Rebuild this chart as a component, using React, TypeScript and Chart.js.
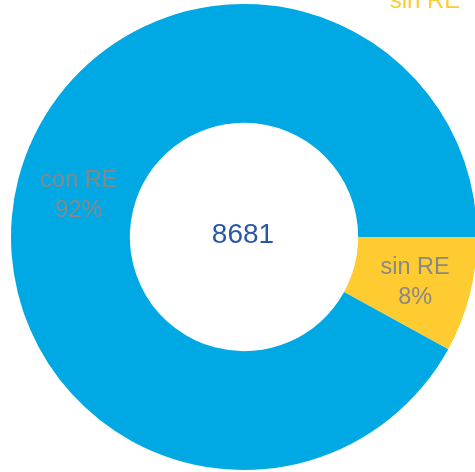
import React, { useEffect, useRef } from "react";
import { Chart, registerables } from "chart.js";

Chart.register(...registerables);

const categories = ["sin RE", "con RE"];
const values = [694, 7987];
const colors = ["#FECB30", "#00A9E4"];
const legendLabel = "sin RE";

const FONT = "'Liberation Sans', Arial, sans-serif";

const labelPlugin = {
  id: "sliceLabels",
  afterDatasetsDraw(chart: any) {
    const ctx = chart.ctx;
    const meta = chart.getDatasetMeta(0);
    const data = chart.data.datasets[0].data as number[];
    const total = data.reduce((a, b) => a + b, 0);
    ctx.save();
    ctx.textAlign = "center";
    ctx.textBaseline = "middle";
    ctx.fillStyle = "#888888";
    ctx.font = `23.5px ${FONT}`;
    meta.data.forEach((arc: any, i: number) => {
      const p = arc.tooltipPosition();
      const pct = Math.round((data[i] / total) * 100) + "%";
      ctx.fillText(String(chart.data.labels[i]), p.x + 3, p.y - 13);
      ctx.fillText(pct, p.x + 3, p.y + 17);
    });
    // center total
    const arc0 = meta.data[0];
    ctx.fillStyle = "#2B58A6";
    ctx.font = `28px ${FONT}`;
    ctx.fillText(String(total), arc0.x - 1, arc0.y - 2);
    // partially visible legend text at top
    ctx.fillStyle = colors[0];
    ctx.font = `24px ${FONT}`;
    ctx.textBaseline = "alphabetic";
    ctx.fillText(legendLabel, 425, 8);
    ctx.restore();
  },
};

export default function App() {
  const ref = useRef<HTMLCanvasElement>(null);
  useEffect(() => {
    if (!ref.current) return;
    const chart = new Chart(ref.current, {
      type: "doughnut",
      data: {
        labels: categories,
        datasets: [
          {
            data: values,
            backgroundColor: colors,
            borderWidth: 0,
            hoverBorderWidth: 0,
            hoverOffset: 0,
          },
        ],
      },
      options: {
        responsive: false,
        animation: false,
        cutout: "49%",
        rotation: 90,
        layout: { padding: { left: 11, right: 13, top: 4, bottom: 2 } },
        plugins: {
          legend: { display: false },
          tooltip: { enabled: false },
        },
      },
      plugins: [labelPlugin],
    });
    return () => chart.destroy();
  }, []);
  return (
    <div
      style={{
        position: "absolute",
        left: 0,
        top: 0,
        width: 475,
        height: 472,
        overflow: "hidden",
        background: "#ffffff",
      }}
    >
      <canvas ref={ref} width={490} height={472} style={{ display: "block" }} />
    </div>
  );
}
